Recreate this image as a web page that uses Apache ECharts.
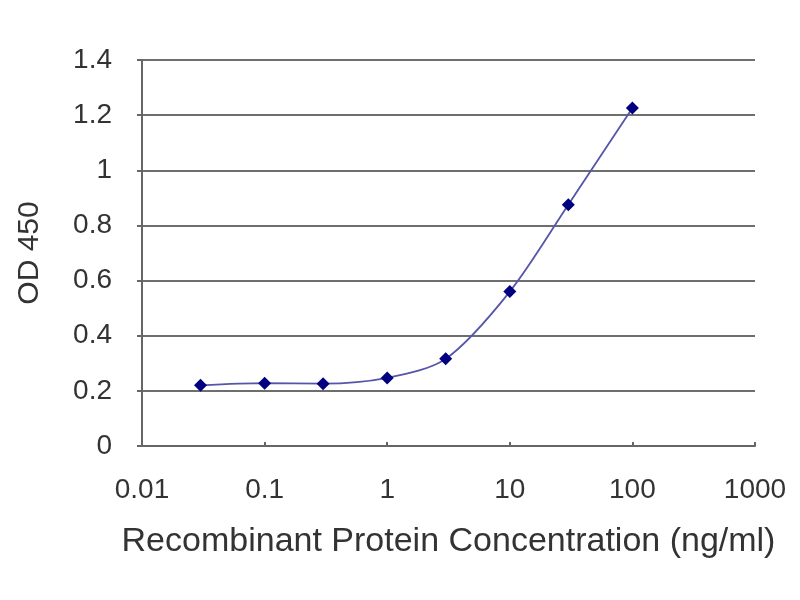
<!DOCTYPE html>
<html>
<head>
<meta charset="utf-8">
<script src="https://cdn.jsdelivr.net/npm/echarts@6/dist/echarts.min.js"></script>
<style>
  html, body { margin: 0; padding: 0; background: #fff; }
  #chart { width: 800px; height: 600px; }
</style>
</head>
<body>
<div id="chart"></div>
<script>
// concentration (ng/ml) and OD 450
var concentrations = [0.03, 0.1, 0.3, 1, 3, 10, 30, 100];
var od450 = [0.22, 0.228, 0.226, 0.247, 0.316, 0.56, 0.875, 1.226];
var xTicks = [0.01, 0.1, 1, 10, 100, 1000];

var chart = echarts.init(document.getElementById('chart'));

var points = [];
for (var i = 0; i < concentrations.length; i++) {
    points.push([concentrations[i], od450[i]]);
}

var font = 'Liberation Sans, Arial, sans-serif';

var option = {
    backgroundColor: '#fff',
    animation: false,
    grid: {
        left: 142,
        right: 45,
        top: 60,
        bottom: 154
    },
    xAxis: {
        type: 'log',
        logBase: 10,
        min: xTicks[0],
        max: xTicks[xTicks.length - 1],
        name: 'Recombinant Protein Concentration (ng/ml)',
        nameLocation: 'middle',
        nameGap: 79,
        nameTextStyle: { fontFamily: font, fontSize: 34, color: '#333' },
        axisLine: { lineStyle: { color: '#666', width: 2 } },
        axisTick: { show: true, inside: true, length: 4, lineStyle: { color: '#666', width: 2 } },
        axisLabel: {
            margin: 30,
            fontFamily: font,
            fontSize: 28,
            color: '#333',
            formatter: function (v) { return String(+v.toPrecision(6)); }
        },
        splitLine: { show: false }
    },
    yAxis: {
        type: 'value',
        min: 0,
        max: 1.4,
        interval: 0.2,
        name: 'OD 450',
        nameLocation: 'middle',
        nameGap: 97,
        nameRotate: 90,
        nameTextStyle: { fontFamily: font, fontSize: 30, color: '#333' },
        axisLine: { show: true, lineStyle: { color: '#666', width: 2 } },
        axisTick: { show: true, length: 5, lineStyle: { color: '#666', width: 2 } },
        axisLabel: {
            margin: 30,
            fontFamily: font,
            fontSize: 28,
            color: '#333'
        },
        splitLine: { show: true, lineStyle: { color: '#6e6e6e', width: 2 } }
    },
    series: [{
        type: 'line',
        data: points,
        smooth: 0.3,
        symbol: 'diamond',
        symbolSize: 13,
        itemStyle: { color: '#000080' },
        lineStyle: { color: '#5555aa', width: 1.8 }
    }]
};

chart.setOption(option);
</script>
</body>
</html>
